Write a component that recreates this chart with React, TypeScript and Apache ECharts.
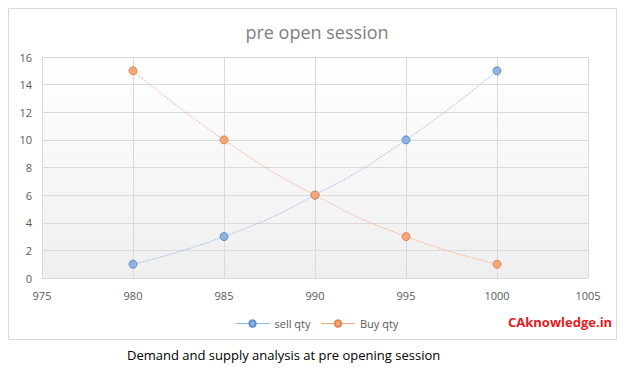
import React, { useEffect, useRef } from "react";
import * as echarts from "echarts";

const prices = [980, 985, 990, 995, 1000];
const sellQty = [1, 3, 6, 10, 15];
const buyQty = [15, 10, 6, 3, 1];
const titleText = "pre open session";
const captionText = "Demand and supply analysis at pre opening session";
const brandText = "CAknowledge.in";

export default function App() {
  const ref = useRef<HTMLDivElement>(null);
  useEffect(() => {
    const chart = echarts.init(ref.current!, null, { renderer: "svg" });
    const font = "Open Sans, Liberation Sans, sans-serif";
    chart.setOption({
      animation: false,
      backgroundColor: "#ffffff",
      title: {
        text: titleText,
        left: 312,
        top: 18,
        textAlign: "center",
        textStyle: { color: "#7f7f7f", fontSize: 18, fontWeight: "normal", fontFamily: font },
      },
      legend: {
        data: ["sell qty", "Buy qty"],
        left: 230,
        top: 313,
        itemWidth: 34,
        itemHeight: 8,
        itemGap: 10,
        textStyle: { color: "#595959", fontSize: 11, fontFamily: font },
        lineStyle: { type: "solid", width: 1 },
      },
      grid: {
        left: 42,
        right: 44,
        top: 57,
        bottom: 98,
        show: true,
        borderColor: "transparent",
        backgroundColor: new echarts.graphic.LinearGradient(0, 0, 0, 1, [
          { offset: 0, color: "#ffffff" },
          { offset: 1, color: "#efefef" },
        ]),
      },
      xAxis: {
        type: "value",
        min: 975,
        max: 1005,
        interval: 5,
        axisLine: { show: true, lineStyle: { color: "#d9d9d9" } },
        axisTick: { show: false },
        splitLine: { show: true, lineStyle: { color: "#d9d9d9" } },
        axisLabel: {
          color: "#595959",
          fontSize: 11,
          fontFamily: font,
          margin: 12,
          formatter: (v: number) => String(v),
        },
      },
      yAxis: {
        type: "value",
        min: 0,
        max: 16,
        interval: 2,
        axisLine: { show: true, lineStyle: { color: "#d9d9d9" } },
        axisTick: { show: false },
        splitLine: { show: true, lineStyle: { color: "#d9d9d9" } },
        axisLabel: { color: "#595959", fontSize: 11, fontFamily: font, margin: 10 },
      },
      series: [
        {
          name: "sell qty",
          type: "line",
          smooth: true,
          data: prices.map((p, i) => [p, sellQty[i]]),
          symbol: "circle",
          symbolSize: 8,
          lineStyle: { color: "#8fb4e0", width: 1, type: "dotted" },
          itemStyle: { color: "#8fb4e0", borderColor: "#5b8fcf", borderWidth: 1 },
        },
        {
          name: "Buy qty",
          type: "line",
          smooth: true,
          data: prices.map((p, i) => [p, buyQty[i]]),
          symbol: "circle",
          symbolSize: 8,
          lineStyle: { color: "#f4a77a", width: 1, type: "dotted" },
          itemStyle: { color: "#f4a77a", borderColor: "#e6864f", borderWidth: 1 },
        },
      ],
      graphic: [
        {
          type: "rect",
          shape: { x: 8.5, y: 8.5, width: 608, height: 331 },
          style: { fill: "none", stroke: "#d9d9d9", lineWidth: 1 },
          silent: true,
        },
        {
          type: "text",
          left: 508,
          top: 315,
          style: { text: brandText, fill: "#e31b23", fontSize: 13, fontWeight: "bold", fontFamily: font },
        },
        {
          type: "text",
          left: 127,
          top: 348,
          style: { text: captionText, fill: "#000000", fontSize: 13, fontFamily: font },
        },
      ],
    });
    return () => chart.dispose();
  }, []);
  return (
    <div
      ref={ref}
      style={{ position: "fixed", left: 0, top: 0, width: 632, height: 376 }}
    />
  );
}
